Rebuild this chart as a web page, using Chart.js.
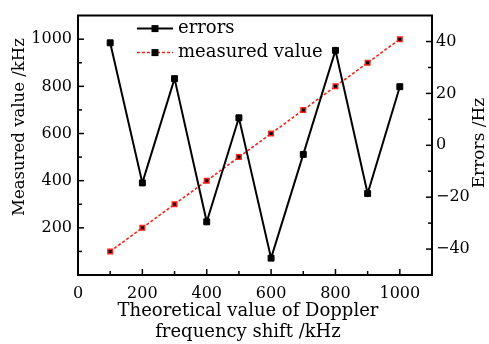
<!DOCTYPE html>
<html><head><meta charset="utf-8">
<script src="https://cdn.jsdelivr.net/npm/chart.js@4/dist/chart.umd.min.js"></script>
<style>html,body{margin:0;padding:0;background:#fff}#wrap{width:489px;height:344px;position:relative}canvas{display:block}</style>
</head><body><div id="wrap"><canvas id="c" width="489" height="344" style="width:489px;height:344px"></canvas></div>
<script>
// ---- data ----
const theoretical = [100, 200, 300, 400, 500, 600, 700, 800, 900, 1000];
const measuredValues = [100, 200, 300, 400, 500, 600, 700, 800, 900, 1000];
const errorValues = [39.5, -14.5, 25.7, -29.5, 10.6, -43.5, -3.5, 36.6, -18.6, 22.6];
const xTicks = [0, 200, 400, 600, 800, 1000];
const xMinorTicks = [100, 300, 500, 700, 900, 1100];
const leftTicks = [200, 400, 600, 800, 1000];
const leftMinorTicks = [100, 300, 500, 700, 900];
const rightTicks = [-40, -20, 0, 20, 40];
const rightMinorTicks = [-30, -10, 10, 30];
const xTitle = ['Theoretical value of Doppler', 'frequency shift /kHz'];
const leftTitle = 'Measured value /kHz';
const rightTitle = 'Errors /Hz';
const seriesNames = ['errors', 'measured value'];

const FONT = '"DejaVu Serif", serif';
const RED = 'rgb(245,35,25)';

const boxPlugin = {
  id: 'boxAndText',
  afterDraw(chart) {
    const ctx = chart.ctx, a = chart.chartArea;
    const sx = chart.scales.x, sl = chart.scales.yL, sr = chart.scales.yR;
    ctx.save();
    ctx.strokeStyle = '#000';
    ctx.lineWidth = 2;
    // top border
    ctx.beginPath(); ctx.moveTo(a.left - 1, a.top); ctx.lineTo(a.right + 1, a.top); ctx.stroke();
    ctx.lineWidth = 1.5;
    const tick = (x1, y1, x2, y2) => { ctx.beginPath(); ctx.moveTo(x1, y1); ctx.lineTo(x2, y2); ctx.stroke(); };
    xTicks.forEach(v => { const p = sx.getPixelForValue(v); tick(p, a.bottom, p, a.bottom - 6); });
    xMinorTicks.forEach(v => { const p = sx.getPixelForValue(v); tick(p, a.bottom, p, a.bottom - 4); });
    leftTicks.forEach(v => { const p = sl.getPixelForValue(v); tick(a.left, p, a.left + 6, p); });
    leftMinorTicks.forEach(v => { const p = sl.getPixelForValue(v); tick(a.left, p, a.left + 4, p); });
    rightTicks.forEach(v => { const p = sr.getPixelForValue(v); tick(a.right, p, a.right - 6, p); });
    rightMinorTicks.forEach(v => { const p = sr.getPixelForValue(v); tick(a.right, p, a.right - 4, p); });

    // titles
    ctx.fillStyle = '#000';
    ctx.font = '18px ' + FONT;
    ctx.textAlign = 'center';
    ctx.textBaseline = 'alphabetic';
    ctx.fillText(xTitle[0], 248, 316);
    ctx.fillText(xTitle[1], 248, 337);
    ctx.textBaseline = 'middle';
    ctx.font = '16.5px ' + FONT;
    ctx.save(); ctx.translate(20, 127); ctx.rotate(-Math.PI / 2);
    ctx.fillText(leftTitle, 0, 0); ctx.restore();
    ctx.font = '17px ' + FONT;
    ctx.save(); ctx.translate(480, 143); ctx.rotate(-Math.PI / 2);
    ctx.fillText(rightTitle, 0, 0); ctx.restore();

    // legend
    ctx.font = '18px ' + FONT;
    const lx = a.left + 59, ly1 = a.top + 13, ly2 = a.top + 37;
    ctx.lineWidth = 2; ctx.strokeStyle = '#000';
    tick(lx, ly1, lx + 36, ly1);
    ctx.fillRect(lx + 18 - 3.5, ly1 - 3.5, 7, 7);
    ctx.strokeStyle = RED; ctx.lineWidth = 1.5; ctx.setLineDash([3, 2]);
    tick(lx, ly2, lx + 36, ly2);
    ctx.setLineDash([]);
    ctx.fillRect(lx + 18 - 3.5, ly2 - 3.5, 7, 7);
    ctx.textAlign = 'left';
    ctx.fillText(seriesNames[0], lx + 41, ly1);
    ctx.fillText(seriesNames[1], lx + 41, ly2);
    ctx.restore();
  }
};

const tickFont = { family: FONT, size: 16 };
new Chart(document.getElementById('c'), {
  type: 'line',
  data: {
    datasets: [
      {
        label: seriesNames[0],
        data: theoretical.map((x, i) => ({ x, y: errorValues[i] })),
        yAxisID: 'yR',
        borderColor: '#000', borderWidth: 2,
        pointStyle: 'rect', pointRadius: 4.2, pointBackgroundColor: '#000', pointBorderColor: '#000', pointBorderWidth: 1,
        order: 0
      },
      {
        label: seriesNames[1],
        data: theoretical.map((x, i) => ({ x, y: measuredValues[i] })),
        yAxisID: 'yL',
        borderColor: RED, borderWidth: 1.6, borderDash: [3, 2],
        pointStyle: 'rect', pointRadius: 3.2, pointBackgroundColor: '#000', pointBorderColor: RED, pointBorderWidth: 1.5,
        order: 1
      }
    ]
  },
  options: {
    responsive: false, maintainAspectRatio: false, animation: false,
    devicePixelRatio: 1,
    layout: { padding: { top: 12, left: 0, right: 0, bottom: 0 } },
    plugins: { legend: { display: false }, tooltip: { enabled: false } },
    scales: {
      x: {
        type: 'linear', min: 0, max: 1100,
        afterBuildTicks: s => { s.ticks = xTicks.map(v => ({ value: v })); },
        afterFit: s => { s.height = 69; },
        grid: { display: false, drawTicks: false },
        border: { display: true, color: '#000', width: 2 },
        ticks: { color: '#000', font: tickFont, padding: 9, maxRotation: 0, callback: v => String(v) }
      },
      yL: {
        type: 'linear', position: 'left', min: 0, max: 1100,
        afterBuildTicks: s => { s.ticks = leftTicks.map(v => ({ value: v })); },
        afterFit: s => { s.width = 78; },
        grid: { display: false, drawTicks: false },
        border: { display: true, color: '#000', width: 2 },
        ticks: { color: '#000', font: tickFont, padding: 6, callback: v => String(v) }
      },
      yR: {
        type: 'linear', position: 'right', min: -50, max: 50,
        afterBuildTicks: s => { s.ticks = rightTicks.map(v => ({ value: v })); },
        afterFit: s => { s.width = 57; },
        grid: { display: false, drawTicks: false },
        border: { display: true, color: '#000', width: 2 },
        ticks: { color: '#000', font: tickFont, padding: 4,
          callback: v => v < 0 ? '\u2212' + Math.abs(v) : String(v) }
      }
    }
  },
  plugins: [boxPlugin]
});
</script></body></html>
